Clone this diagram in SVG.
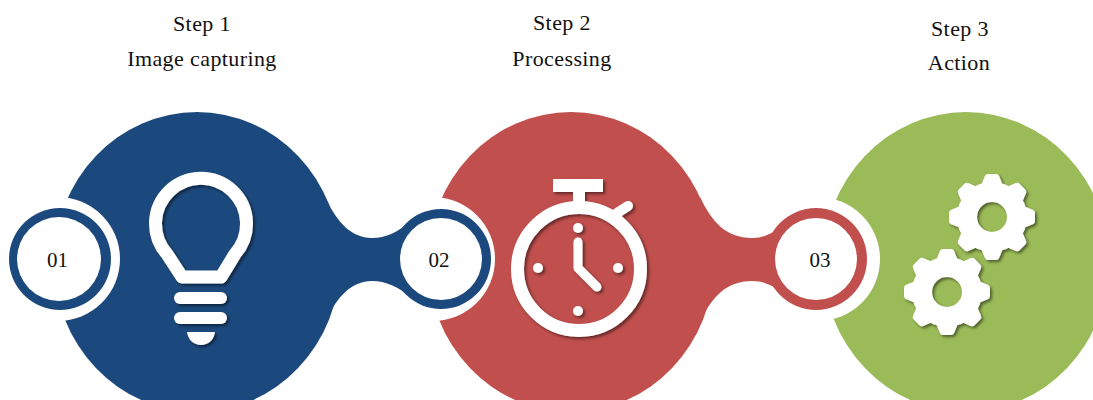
<svg xmlns="http://www.w3.org/2000/svg" width="1093" height="400" viewBox="0 0 1093 400">
<style>
.t{font-family:"Liberation Serif","Times New Roman",serif;font-size:22px;letter-spacing:.4px;fill:#111;text-anchor:middle}
.n{font-family:"Liberation Serif","Times New Roman",serif;font-size:21px;fill:#111;text-anchor:middle}
.w{fill:#fff}
.l{fill:none;stroke:#fff;stroke-linecap:round;stroke-linejoin:round}
.tooth{fill:#fff;stroke:#fff;stroke-width:7;stroke-linejoin:round}
.blue{fill:#1f497d}.red{fill:#c0504d}.green{fill:#9bbb59}
</style>
<defs>
<filter id="soft" x="-5%" y="-5%" width="110%" height="110%"><feGaussianBlur stdDeviation="0.6"/></filter>
<filter id="sh" x="-20%" y="-20%" width="140%" height="140%"><feDropShadow dx="2" dy="2" stdDeviation="1.5" flood-color="#000" flood-opacity="0.5"/></filter>
<path id="tooth" class="tooth" d="M-7-32L-4-39.500H4L7-32Z"/>
<g id="gear">
<circle r="25" fill="none" stroke="#fff" stroke-width="20"/>
<use href="#tooth"/><use href="#tooth" transform="rotate(45)"/><use href="#tooth" transform="rotate(90)"/><use href="#tooth" transform="rotate(135)"/><use href="#tooth" transform="rotate(180)"/><use href="#tooth" transform="rotate(225)"/><use href="#tooth" transform="rotate(270)"/><use href="#tooth" transform="rotate(315)"/>
</g>
</defs>
<rect width="1093" height="400" fill="#fff"/>
<g id="step3" filter="url(#soft)">
<ellipse class="green" cx="966" cy="262" rx="143" ry="150"/>
<circle class="w" cx="818" cy="259" r="62"/>
</g>
<g id="step2" filter="url(#soft)">
<ellipse class="red" cx="571" cy="262" rx="143" ry="150"/>
<circle class="w" cx="433" cy="259" r="62"/>
</g>
<g id="step1" filter="url(#soft)">
<ellipse class="blue" cx="197" cy="262" rx="143" ry="150"/>
<circle class="w" cx="58" cy="259" r="62"/>
</g>
<g id="connectors" filter="url(#soft)">
<path class="red" d="M700 197C712 222 726 238 752 238C764 238 775 233 785 222L800 259L785 296C775 286 764 281 752 281C726 281 712 297 700 322Z"/>
<path class="blue" d="M325 197C337 222 351 238 372 238C386 238 398 232 411 221L430 259L411 297C398 287 386 281 372 281C351 281 337 297 325 322Z"/>
</g>
<g id="ring1" filter="url(#soft)">
<circle class="blue" cx="60" cy="259" r="51"/>
<circle class="w" cx="59" cy="259" r="42"/>
</g>
<g id="ring2" filter="url(#soft)">
<circle class="blue" cx="441" cy="259" r="50"/>
<circle class="w" cx="441" cy="259" r="41"/>
</g>
<g id="ring3" filter="url(#soft)">
<circle class="red" cx="816" cy="259" r="51"/>
<circle class="w" cx="816" cy="259" r="41"/>
</g>
<g id="icon1" filter="url(#sh)">
<path class="l" stroke-width="13" d="M182 277H221L235 254A45.5 45.5 0 1 0 167 254Z"/>
<rect class="w" x="174" y="292" width="53" height="12" rx="6"/>
<rect class="w" x="174" y="312" width="53" height="12" rx="6"/>
<path class="w" d="M187 332H215C214 340 208 345 201 345C194 345 188 340 187 332Z"/>
</g>
<g id="icon2" filter="url(#sh)">
<circle cx="579" cy="269" r="61.5" fill="none" stroke="#fff" stroke-width="13"/>
<rect class="w" x="553" y="179" width="50" height="13"/>
<rect class="w" x="573" y="190" width="12" height="14"/>
<path class="l" stroke-width="10" d="M617 213L628 206"/>
<circle class="w" cx="578" cy="228" r="5"/><circle class="w" cx="538" cy="268" r="5"/><circle class="w" cx="618" cy="268" r="5"/><circle class="w" cx="578" cy="311" r="5"/>
<path class="l" stroke-width="9" d="M578 242V268L597 287"/>
</g>
<g id="icon3" filter="url(#sh)">
<use href="#gear" x="992" y="217"/>
<use href="#gear" x="947" y="292"/>
</g>
<g id="labels">
<text class="t" x="202" y="31">Step 1</text>
<text class="t" x="202" y="66">Image capturing</text>
<text class="t" x="562" y="30">Step 2</text>
<text class="t" x="562" y="66">Processing</text>
<text class="t" x="960" y="36">Step 3</text>
<text class="t" x="959" y="70">Action</text>
<text class="n" x="57.500" y="267">01</text>
<text class="n" x="439" y="267">02</text>
<text class="n" x="820" y="267">03</text>
</g>
</svg>
